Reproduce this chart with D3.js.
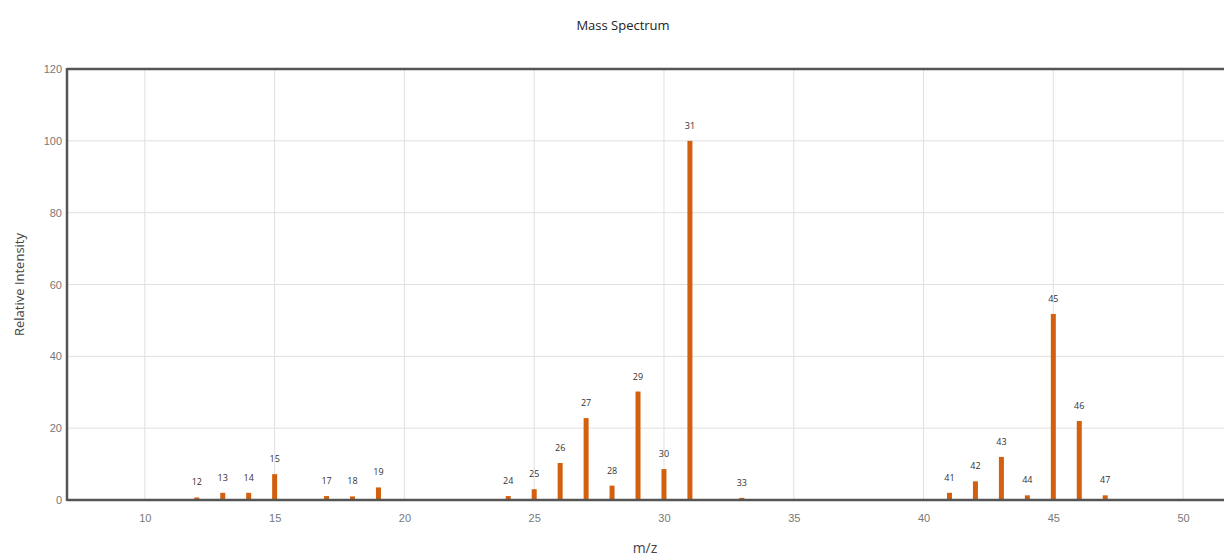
<!DOCTYPE html>
<html>
<head>
<meta charset="utf-8">
<script src="https://cdn.jsdelivr.net/npm/d3@7"></script>
<style>
  body { margin: 0; background: #fff; }
  svg { display: block; font-family: "Open Sans", Roboto, sans-serif; }
</style>
</head>
<body>
<div id="plot-container"></div>
<script>
// peaks
const mz = [12, 13, 14, 15, 17, 18, 19, 24, 25, 26, 27, 28, 29, 30, 31, 33, 41, 42, 43, 44, 45, 46, 47];
const intensity = [0.7, 2, 2, 7.2, 1.1, 1, 3.5, 1.1, 3, 10.3, 22.8, 4, 30.2, 8.6, 100, 0.6, 2, 5.2, 12, 1.3, 51.8, 22, 1.3];
const xTicks = [10, 15, 20, 25, 30, 35, 40, 45, 50];
const yTicks = [0, 20, 40, 60, 80, 100, 120];

const W = 1224, H = 560;
const margin = {top: 69, left: 67, bottom: 60};

const svg = d3.select("#plot-container").append("svg")
    .attr("width", W)
    .attr("height", H);

const x = d3.scaleLinear().domain([7, 52]).range([margin.left, 1235]);
const y = d3.scaleLinear().domain([0, 120]).range([H - margin.bottom, margin.top]);

// grid
svg.append("g").selectAll("line")
    .data(xTicks)
    .join("line")
    .attr("x1", d => x(d)).attr("x2", d => x(d))
    .attr("y1", y(120)).attr("y2", y(0))
    .attr("stroke", "#e0e0e0").attr("stroke-width", 1);
svg.append("g").selectAll("line")
    .data(yTicks.slice(1))
    .join("line")
    .attr("x1", x(7)).attr("x2", W)
    .attr("y1", d => y(d)).attr("y2", d => y(d))
    .attr("stroke", "#e0e0e0").attr("stroke-width", 1);

// axes
const xAxis = svg.append("g")
    .attr("transform", `translate(0, ${y(0)})`)
    .call(d3.axisBottom(x).tickValues(xTicks).tickSize(0).tickPadding(14));
const yAxis = svg.append("g")
    .attr("transform", `translate(${x(7)}, 0)`)
    .call(d3.axisLeft(y).tickValues(yTicks).tickSize(0).tickPadding(5));
[xAxis, yAxis].forEach(g => {
    g.select(".domain").remove();
    g.selectAll("text").attr("fill", "#777").style("font-size", "11px");
});

// bars
const data = mz.map((m, i) => ({mz: m, v: intensity[i]}));
svg.append("g").selectAll("rect")
    .data(data)
    .join("rect")
    .attr("x", d => x(d.mz) - 2.5)
    .attr("width", 5)
    .attr("y", d => y(d.v))
    .attr("height", d => y(0) - y(d.v))
    .attr("fill", "#d2600f");

// peak labels
svg.append("g").selectAll("text")
    .data(data)
    .join("text")
    .attr("x", d => x(d.mz))
    .attr("y", d => y(d.v) - 12)
    .attr("text-anchor", "middle")
    .style("font-size", "9px")
    .attr("fill", "#333")
    .text(d => d.mz);

// frame lines (left, top, bottom)
svg.append("line")
    .attr("x1", x(7)).attr("x2", W).attr("y1", y(120)).attr("y2", y(120))
    .attr("stroke", "#555").attr("stroke-width", 2.5);
svg.append("line")
    .attr("x1", x(7)).attr("x2", W).attr("y1", y(0)).attr("y2", y(0))
    .attr("stroke", "#555").attr("stroke-width", 2.5);
svg.append("line")
    .attr("x1", x(7)).attr("x2", x(7)).attr("y1", y(120) - 1).attr("y2", y(0) + 1)
    .attr("stroke", "#555").attr("stroke-width", 2.5);

// titles
svg.append("text")
    .attr("x", 623).attr("y", 30)
    .attr("text-anchor", "middle")
    .style("font-size", "13px")
    .attr("fill", "#222")
    .text("Mass Spectrum");
svg.append("text")
    .attr("x", 645).attr("y", 553)
    .attr("text-anchor", "middle")
    .style("font-size", "14px")
    .attr("fill", "#444")
    .text("m/z");
svg.append("text")
    .attr("transform", `translate(24, ${(y(0) + y(120)) / 2}) rotate(-90)`)
    .attr("text-anchor", "middle")
    .style("font-size", "13px")
    .attr("fill", "#444")
    .text("Relative Intensity");
</script>
</body>
</html>
